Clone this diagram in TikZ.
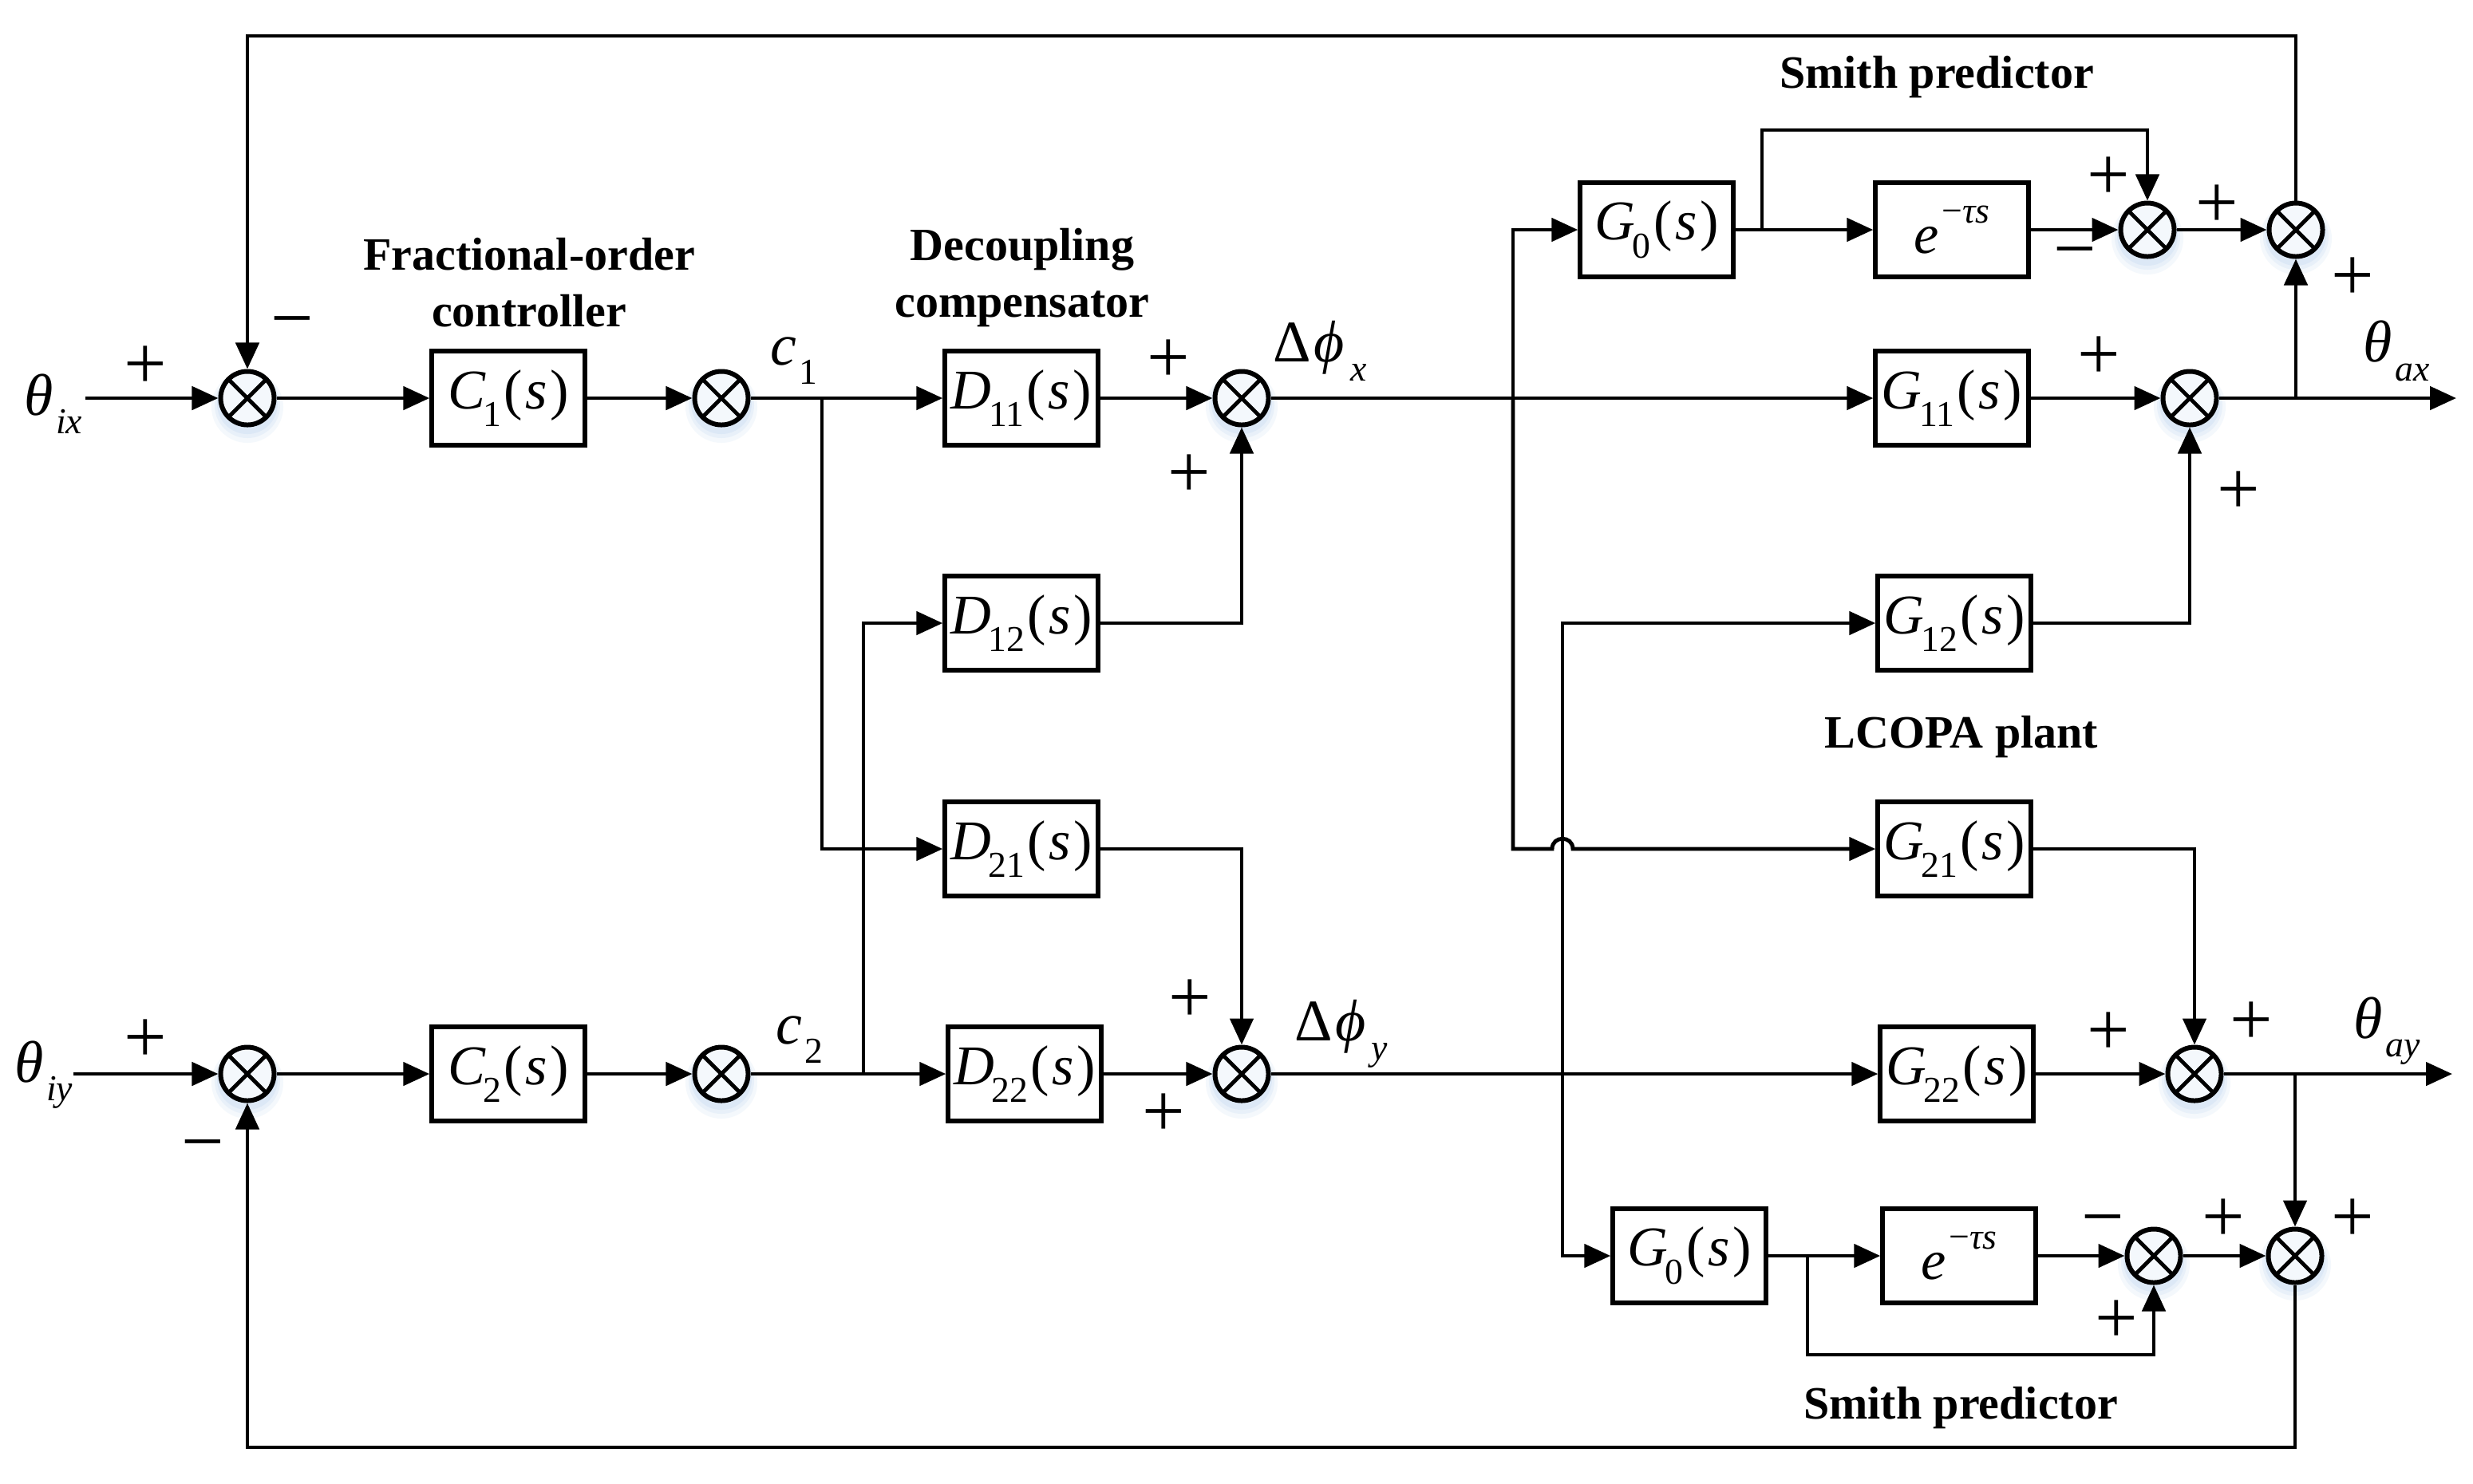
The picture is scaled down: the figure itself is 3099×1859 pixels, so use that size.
\documentclass[tikz,border=0pt]{standalone}
\usepackage{fontspec}
\setmainfont{Liberation Serif}
\usetikzlibrary{arrows.meta}
\definecolor{glowc}{RGB}{185,210,238}
\newcommand\sbs[1]{\raisebox{-0.32em}{\fontsize{13}{13}\selectfont #1}}
\newcommand\tf[2]{\textit{#1}\kern-1pt\sbs{#2}\kern1pt(\kern1pt\textit{s}\kern1pt)}
\newcommand\edel{\textit{e}\kern1pt\raisebox{0.55em}{\fontsize{13}{13}\selectfont −\textit{τs}}}
\begin{document}
\begin{tikzpicture}[x=0.01cm,y=-0.01cm,
  line width=1.4pt,
  >={Triangle[length=0.33cm,width=0.29cm]},
  blk/.style={draw,line width=1.5pt,minimum width=1.92cm,minimum height=1.18cm,inner sep=0pt,font=\fontsize{20}{24}\selectfont},
  sumj/.style={circle,draw,line width=1.7pt,minimum size=0.67cm,inner sep=0pt,fill=white,fill opacity=0.7,
    path picture={\draw[line width=1.4pt,opacity=1] (path picture bounding box.north west)--(path picture bounding box.south east) (path picture bounding box.north east)--(path picture bounding box.south west);}},
  sgn/.style={anchor=base,inner sep=0pt,font=\fontsize{27}{27}\selectfont},
  lbl/.style={inner sep=0pt,font=\fontsize{16.5}{20.2}\selectfont\bfseries,align=center},
  var/.style={inner sep=0pt,font=\fontsize{21}{24}\selectfont},
]
\fill[white] (0,0) rectangle (3099,1859);
\useasboundingbox (0,0) rectangle (3099,1859);

% summing junctions with glow
\foreach \n/\x/\y in {s1x/310/499, s2x/904/499, sdx/1556/499, sa/2691/288, sb/2877/288, s3x/2744/499,
                      s1y/310/1346, s2y/904/1346, sdy/1556/1346, s4y/2750/1346, sc/2699/1574, sd/2876/1574} {
  \fill[glowc,opacity=0.15] (\x,\y+11) circle (0.45cm);
  \fill[glowc,opacity=0.2] (\x,\y+9) circle (0.41cm);
  \fill[glowc,opacity=0.25] (\x,\y+7) circle (0.38cm);
  \node[sumj] (\n) at (\x,\y) {};
}

% blocks
\node[blk] (C1) at (637,499) {\tf{C}{1}};
\node[blk] (C2) at (637,1346) {\tf{C}{2}};
\node[blk] (D11) at (1280,499) {\tf{D}{11}};
\node[blk] (D12) at (1280,781) {\tf{D}{12}};
\node[blk] (D21) at (1280,1064) {\tf{D}{21}};
\node[blk] (D22) at (1284,1346) {\tf{D}{22}};
\node[blk] (G0a) at (2076,288) {\tf{G}{0}};
\node[blk] (Ea) at (2446,288) {\edel};
\node[blk] (G11) at (2446,499) {\tf{G}{11}};
\node[blk] (G12) at (2449,781) {\tf{G}{12}};
\node[blk] (G21) at (2449,1064) {\tf{G}{21}};
\node[blk] (G22) at (2452,1346) {\tf{G}{22}};
\node[blk] (G0b) at (2117,1574) {\tf{G}{0}};
\node[blk] (Eb) at (2455,1574) {\edel};

% coordinates
\coordinate (inx) at (107,499);
\coordinate (iny) at (92,1346);
\coordinate (c1b) at (1030,499);
\coordinate (c2b) at (1082,1346);
\coordinate (bx) at (1896,499);
\coordinate (by) at (1958,1346);
\coordinate (ta) at (2208,288);
\coordinate (tb) at (2265,1574);
\coordinate (bx2) at (2877,499);
\coordinate (by2) at (2876,1346);
\coordinate (outx) at (3078,499);
\coordinate (outy) at (3073,1346);

% x channel
\draw[->] (inx) -- (s1x);
\draw[->] (s1x) -- (C1);
\draw[->] (C1) -- (s2x);
\draw[->] (s2x) -- (D11);
\draw[->] (c1b) |- (D21.west);
\draw[->] (D11) -- (sdx);
\draw[->] (D12.east) -| (sdx.south);
\draw[->] (sdx) -- (G11);
\draw[->] (bx) |- (G0a.west);
\draw[->] (bx) -- (1896,1064) -- (1945,1064) .. controls (1945,1047) and (1971,1047) .. (1971,1064) -- (G21.west);
\draw[->] (G0a) -- (Ea);
\draw[->] (ta) -- (2208,163) -| (sa.north);
\draw[->] (Ea) -- (sa);
\draw[->] (sa) -- (sb);
\draw[->] (sb.north) -- (2877,45) -| (s1x.north);
\draw[->] (G11) -- (s3x);
\draw[->] (G12.east) -| (s3x.south);
\draw[->] (s3x) -- (outx);
\draw[->] (bx2) -- (sb.south);

% y channel
\draw[->] (iny) -- (s1y);
\draw[->] (s1y) -- (C2);
\draw[->] (C2) -- (s2y);
\draw[->] (s2y) -- (D22);
\draw[->] (D22) -- (sdy);
\draw[->] (c2b) |- (D12.west);
\draw[->] (D21.east) -| (sdy.north);
\draw[->] (sdy) -- (G22);
\draw[->] (by) |- (G12.west);
\draw[->] (by) |- (G0b.west);
\draw[->] (G0b) -- (Eb);
\draw[->] (tb) -- (2265,1698) -| (sc.south);
\draw[->] (Eb) -- (sc);
\draw[->] (sc) -- (sd);
\draw[->] (G21.east) -| (s4y.north);
\draw[->] (G22) -- (s4y);
\draw[->] (s4y) -- (outy);
\draw[->] (by2) -- (sd.north);
\draw[->] (sd.south) -- (2876,1814) -| (s1y.south);

% variable labels
\node[var,anchor=base west] (tix) at (28,520) {\textit{θ}\kern1pt\sbs{\textit{ix}}};
\node[var,anchor=base west] (tiy) at (16,1356) {\textit{θ}\kern1pt\sbs{\textit{iy}}};
\node[var] (tax) at (3003,440) {\textit{θ}\kern1pt\sbs{\textit{ax}}};
\node[var] (tay) at (2991,1292) {\textit{θ}\kern1pt\sbs{\textit{ay}}};
\node[var] (dpx) at (1654,440) {Δ\kern1pt\textit{ϕ}\kern2pt\sbs{\textit{x}}};
\node[var] (dpy) at (1681,1296) {Δ\kern1pt\textit{ϕ}\kern2pt\sbs{\textit{y}}};
\node[var] (lc1) at (995,452) {\textit{c}\kern1pt\sbs{1}};
\node[var] (lc2) at (1002,1303) {\textit{c}\kern1pt\sbs{2}};

% bold labels
\node[lbl] (lfo) at (663,354) {Fractional-order\\controller};
\node[lbl] (ldc) at (1281,348) {Decoupling\\compensator};
\node[lbl] (lsp1) at (2427,97) {Smith predictor};
\node[lbl] (lpl) at (2458,924) {LCOPA plant};
\node[lbl] (lsp2) at (2457,1765) {Smith predictor};

% signs
\foreach \n/\x/\y/\s in {p1/182/487/+, m1/366/430/−, p2/1464/479/+, p3/1490/623/+,
   p4/2642/250/+, m2/2600/343/−, p5/2778/285/+, p6/2948/376/+,
   p7/2630/475/+, p8/2805/644/+,
   p9/182/1331/+, m3/254/1462/−,
   p10/1491/1281/+, p11/1458/1424/+,
   p12/2642/1322/+, p13/2821/1309/+,
   m4/2635/1556/−, p14/2786/1556/+, p15/2948/1556/+, p16/2652/1683/+} {
  \node[sgn] (\n) at (\x,\y) {\s};
}
\end{tikzpicture}
\end{document}
